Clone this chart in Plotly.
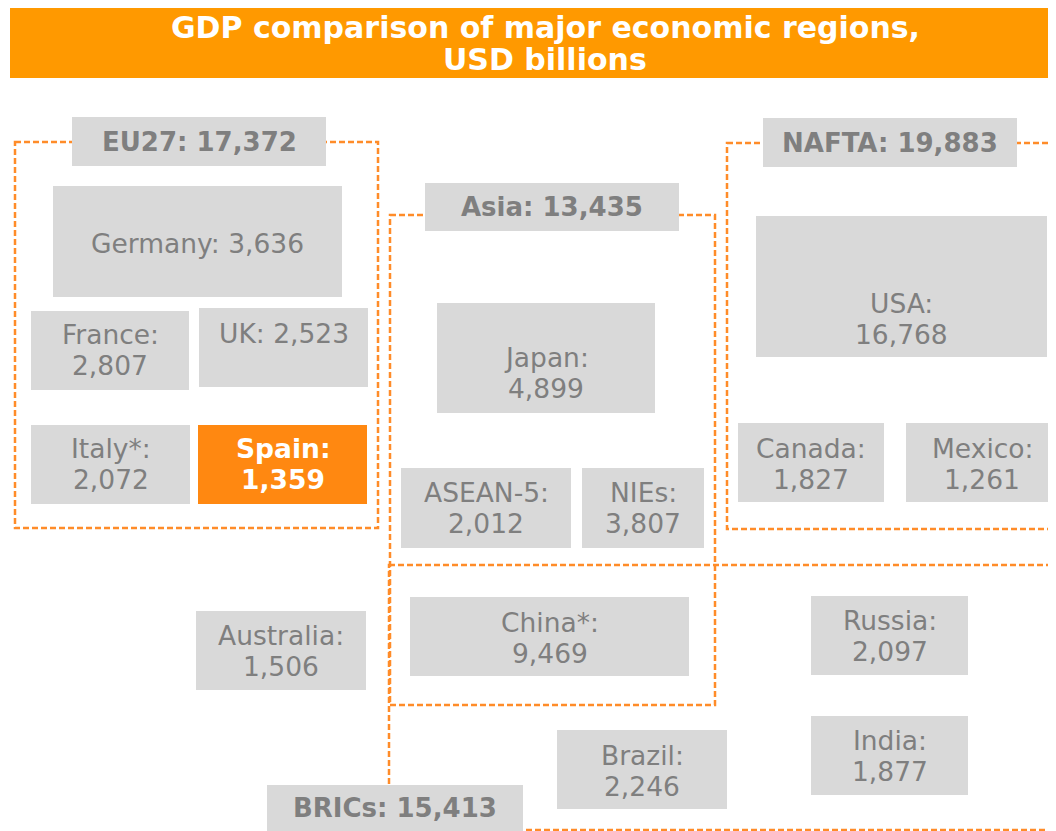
import plotly.graph_objects as go

# data
countries = ['Germany', 'France', 'UK', 'Italy*', 'Spain', 'Japan', 'ASEAN-5', 'NIEs',
             'USA', 'Canada', 'Mexico', 'China*', 'Australia', 'Russia', 'India', 'Brazil']
gdp = [3636, 2807, 2523, 2072, 1359, 4899, 2012, 3807,
       16768, 1827, 1261, 9469, 1506, 2097, 1877, 2246]
regions = ['EU27', 'Asia', 'NAFTA', 'BRICs']
region_gdp = [17372, 13435, 19883, 15413]
highlight = 'Spain'
title_lines = ['GDP comparison of major economic regions,', 'USD billions']

# layout in page pixels: box x0, x1, y0, y1, text centre y, one line?
BOX = {
    'Germany':   (53, 342, 186, 297, 243, True),
    'France':    (31, 189, 311, 390, 350, False),
    'UK':        (199, 368, 308, 387, 333, True),
    'Italy*':    (31, 190, 425, 504, 464, False),
    'Spain':     (198, 367, 425, 504, 464, False),
    'Japan':     (437, 655, 303, 413, 373, False),
    'ASEAN-5':   (401, 571, 468, 548, 508, False),
    'NIEs':      (582, 704, 468, 548, 508, False),
    'USA':       (756, 1047, 216, 357, 319, False),
    'Canada':    (738, 884, 423, 502, 464, False),
    'Mexico':    (906, 1070, 423, 502, 464, False),
    'China*':    (410, 689, 597, 676, 638, False),
    'Australia': (196, 366, 611, 690, 651, False),
    'Russia':    (811, 968, 596, 675, 636, False),
    'India':     (811, 968, 716, 795, 756, False),
    'Brazil':    (557, 727, 730, 809, 771, False),
}
TEXT_X = {'Mexico': 982}
FRAME = {
    'EU27':  (15, 378, 142, 528),
    'Asia':  (390, 715, 215, 705),
    'NAFTA': (727, 1075, 143, 529),
    'BRICs': (389, 1075, 565, 830),
}
LABEL = {
    'EU27':  (72, 326, 117, 166),
    'Asia':  (425, 679, 183, 231),
    'NAFTA': (763, 1017, 118, 167),
    'BRICs': (267, 523, 785, 845),
}
LABEL_Y = {'BRICs': 808}

GREY = '#d9d9d9'
TXT = '#7f7f7f'
ORANGE = '#ff9900'
DASH = '#ff8c29'
FONT = 'DejaVu Sans'
SIZE = 26.5
HALF = 15.5  # half line gap

fig = go.Figure()
shapes = []
ann = []


def text(x, y, s, size=SIZE, color=TXT, bold=False):
    ann.append(dict(x=x, y=y, text=f'<b>{s}</b>' if bold else s, showarrow=False,
                    font=dict(family=FONT, size=size, color=color)))


# title bar
shapes.append(dict(type='rect', x0=10, x1=1070, y0=7, y1=78, fillcolor=ORANGE, line_width=0, layer='below'))
text(545, 27, title_lines[0], size=30, color='white', bold=True)
text(545, 59, title_lines[1], size=30, color='white', bold=True)

# dashed region frames
for r in regions:
    x0, x1, y0, y1 = FRAME[r]
    shapes.append(dict(type='rect', x0=x0, x1=x1, y0=y0, y1=y1, fillcolor='rgba(0,0,0,0)',
                       line=dict(color=DASH, width=2.5, dash='6px,3px'), layer='above'))

# country boxes
for name, val in zip(countries, gdp):
    x0, x1, y0, y1, ty, one = BOX[name]
    hl = name == highlight
    shapes.append(dict(type='rect', x0=x0, x1=x1, y0=y0, y1=y1,
                       fillcolor='#ff8811' if hl else GREY, line_width=0, layer='above'))
    tx = TEXT_X.get(name, (x0 + x1) / 2)
    col = 'white' if hl else TXT
    if one:
        text(tx, ty, f'{name}: {val:,}', color=col, bold=hl)
    else:
        text(tx, ty - HALF, f'{name}:', color=col, bold=hl)
        text(tx, ty + HALF, f'{val:,}', color=col, bold=hl)

# region labels
for r, val in zip(regions, region_gdp):
    x0, x1, y0, y1 = LABEL[r]
    shapes.append(dict(type='rect', x0=x0, x1=x1, y0=y0, y1=y1, fillcolor=GREY, line_width=0, layer='above'))
    text((x0 + x1) / 2, LABEL_Y.get(r, (y0 + y1) / 2), f'{r}: {val:,}', size=26, bold=True)

# page has an 8px body margin, so the plot starts at page pixel 8
fig.update_layout(
    width=1048, height=823,
    margin=dict(l=0, r=0, t=0, b=0),
    paper_bgcolor='white', plot_bgcolor='white',
    xaxis=dict(range=[8, 1056], visible=False, fixedrange=True),
    yaxis=dict(range=[831, 8], visible=False, fixedrange=True),
    shapes=shapes, annotations=ann, showlegend=False,
)
fig.write_html('out.html')
